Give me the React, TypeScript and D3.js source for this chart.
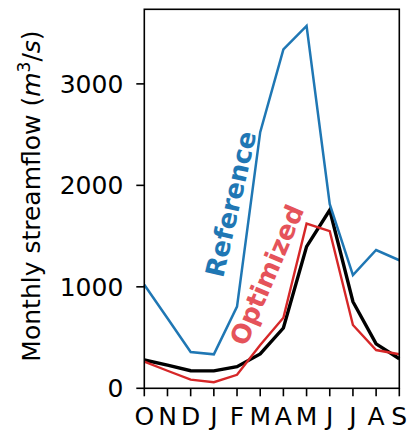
import * as d3 from 'd3';
import React from 'react';

// monthly streamflow, water year Oct -> Sep
const months = ['O', 'N', 'D', 'J', 'F', 'M', 'A', 'M', 'J', 'J', 'A', 'S'];
const referenceFlow = [1020, 690, 358, 335, 805, 2524, 3340, 3572, 1815, 1115, 1363, 1262];
const observedFlow = [279, 228, 173, 172, 213, 338, 594, 1396, 1757, 853, 438, 291];
const optimizedFlow = [262, 173, 85, 60, 133, 427, 695, 1623, 1548, 624, 377, 336];
const yTicks = [0, 1000, 2000, 3000];

const width = 409;
const height = 433;
const margin = { top: 9.3, right: 9.7, bottom: 44.7, left: 144.3 };
const font = "'DejaVu Sans', sans-serif";

const App = () => {
    const x = d3.scaleLinear()
        .domain([0, months.length - 1])
        .range([margin.left, width - margin.right]);
    const y = d3.scaleLinear()
        .domain([0, 3735])
        .range([height - margin.bottom, margin.top]);

    const line = d3.line<number>()
        .x((d, i) => x(i))
        .y(d => y(d));

    const x0 = margin.left, x1 = width - margin.right;
    const y0 = height - margin.bottom, y1 = margin.top;
    const tickLen = 8;

    return (
        <svg width={width} height={height}
            style={{ position: 'absolute', left: 0, top: 0, background: '#fff' }}>
            <path d={line(observedFlow) || ''} fill="none" stroke="#000" strokeWidth={3.4} />
            <path d={line(optimizedFlow) || ''} fill="none" stroke="#d62728" strokeWidth={2.4} />
            <path d={line(referenceFlow) || ''} fill="none" stroke="#1f77b4" strokeWidth={2.5} />

            {/* frame */}
            <rect x={x0} y={y1} width={x1 - x0} height={y0 - y1} fill="none" stroke="#000" strokeWidth={1.6} />

            {/* x ticks */}
            {months.map((m, i) => (
                <g key={'x' + i} transform={`translate(${x(i)},${y0})`}>
                    <line y1={0} y2={tickLen} stroke="#000" strokeWidth={1.6} />
                    <text y={37} textAnchor="middle" fontFamily={font} fontSize={25} fill="#000">{m}</text>
                </g>
            ))}

            {/* y ticks */}
            {yTicks.map(t => (
                <g key={'y' + t} transform={`translate(${x0},${y(t)})`}>
                    <line x1={0} x2={-tickLen} stroke="#000" strokeWidth={1.6} />
                    <text x={-21} y={9} textAnchor="end" fontFamily={font} fontSize={25} fill="#000">{t}</text>
                </g>
            ))}

            {/* y label */}
            <text transform="translate(40,196) rotate(-90)" textAnchor="middle" fontFamily={font} fontSize={25} fill="#000">
                Monthly streamflow (<tspan fontStyle="italic">m</tspan>
                <tspan fontSize={17} dy={-10}>3</tspan>
                <tspan dy={10}>/</tspan><tspan fontStyle="italic">s</tspan>)
            </text>

            {/* series annotations */}
            <text transform="translate(231,204) rotate(-77)" textAnchor="middle" dominantBaseline="central"
                fontFamily={font} fontSize={26} fontWeight="bold" fill="#1f77b4">Reference</text>
            <text transform="translate(267,275) rotate(-67)" textAnchor="middle" dominantBaseline="central"
                fontFamily={font} fontSize={26} fontWeight="bold" fill="#e5535a">Optimized</text>
        </svg>
    );
};

export default App;
